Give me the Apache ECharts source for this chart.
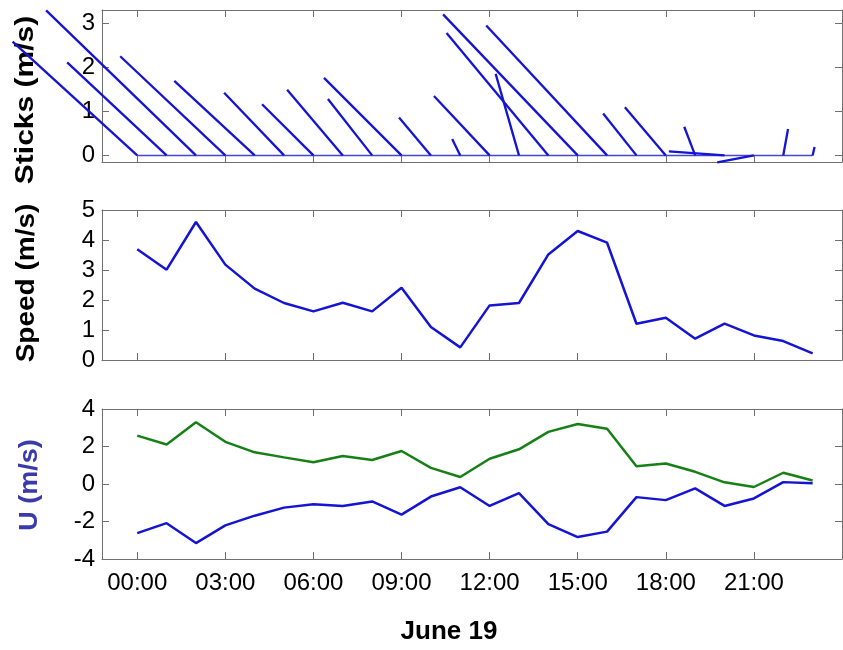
<!DOCTYPE html>
<html>
<head>
<meta charset="utf-8">
<script src="https://cdn.jsdelivr.net/npm/echarts@6/dist/echarts.min.js"></script>
<style>
html,body{margin:0;padding:0;background:#fff;}
#chart{width:843px;height:650px;}
</style>
</head>
<body>
<div id="chart"></div>
<script>
// ---- data ----
const hours = [0,1,2,3,4,5,6,7,8,9,10,11,12,13,14,15,16,17,18,19,20,21,22,23];
const uValues = [-2.62,-2.09,-3.15,-2.21,-1.69,-1.26,-1.08,-1.17,-0.93,-1.63,-0.67,-0.17,-1.17,-0.49,-2.14,-2.83,-2.54,-0.70,-0.86,-0.23,-1.17,-0.77,0.10,0.04];
const vValues = [2.58,2.11,3.29,2.25,1.69,1.42,1.16,1.49,1.28,1.76,0.86,0.37,1.35,1.85,2.78,3.20,2.95,0.95,1.09,0.65,0.09,-0.16,0.60,0.19];
const speedValues = [3.69,3.01,4.60,3.18,2.38,1.90,1.62,1.91,1.62,2.41,1.10,0.42,1.82,1.90,3.52,4.30,3.91,1.21,1.41,0.71,1.21,0.82,0.63,0.22];
const tickHours = [0,3,6,9,12,15,18,21];
const tickLabels = ['00:00','03:00','06:00','09:00','12:00','15:00','18:00','21:00'];
const sticksTicks = [0,1,2,3];
const STICK_HOURS_PER_MS = 1.62; // horizontal stick scale (hours per m/s)

// ---- styling ----
const FONT = '"Liberation Sans", Arial, Helvetica, sans-serif';
const AXIS_COLOR = '#707070';
const BLUE = '#1414d2';
const GREEN = '#168016';

const grids = [
  {left:102, right:1, top:10, height:152},
  {left:102, right:1, top:210, height:150},
  {left:102, right:1, top:409, height:150}
];

function xAxisFor(gi, pos, showLabels){
  return {
    type:'value', gridIndex:gi, position:pos, min:-1.2, max:24,
    axisLine:{show:true, onZero:false, lineStyle:{color:AXIS_COLOR, width:1}},
    axisTick:{show:true, inside:true, length:7, customValues:tickHours, lineStyle:{color:AXIS_COLOR}},
    axisLabel:{show:showLabels, customValues:tickHours, margin:12,
      formatter:function(v){ const i = tickHours.indexOf(v); return i>=0 ? tickLabels[i] : ''; },
      color:'#000', fontSize:24, fontFamily:FONT},
    splitLine:{show:false}
  };
}
function yAxisFor(gi, pos, showLabels, cfg){
  const tick = {show:true, inside:true, length:7, lineStyle:{color:AXIS_COLOR}};
  const lab = {show:showLabels, margin:7, color:'#000', fontSize:24, fontFamily:FONT};
  if (cfg.custom){ tick.customValues = cfg.custom; lab.customValues = cfg.custom; }
  const ax = {
    type:'value', gridIndex:gi, position:pos, min:cfg.min, max:cfg.max,
    axisLine:{show:true, onZero:false, lineStyle:{color:AXIS_COLOR, width:1}},
    axisTick:tick, axisLabel:lab, splitLine:{show:false}
  };
  if (cfg.interval) ax.interval = cfg.interval;
  return ax;
}

const yCfg = [
  {min:-0.15, max:3.3, custom:sticksTicks},
  {min:0, max:5, interval:1},
  {min:-4, max:4, interval:2}
];

const xAxes = [], yAxes = [];
for (let g=0; g<3; g++){
  xAxes.push(xAxisFor(g,'bottom', g===2));
  xAxes.push(xAxisFor(g,'top', false));
  yAxes.push(yAxisFor(g,'left', true, yCfg[g]));
  yAxes.push(yAxisFor(g,'right', false, yCfg[g]));
}

const stickData = hours.map((h,i)=>[h, uValues[i], vValues[i]]);

const option = {
  animation:false,
  backgroundColor:'#fff',
  grid: grids,
  xAxis: xAxes,
  yAxis: yAxes,
  series: [
    {
      type:'line', xAxisIndex:0, yAxisIndex:0, symbol:'none', z:2,
      data: hours.map(h=>[h,0]),
      lineStyle:{color:'#4646d0', width:1.5}
    },
    {
      type:'custom', xAxisIndex:0, yAxisIndex:0, clip:false, z:3,
      data: stickData,
      encode:{x:0, y:2},
      renderItem: function(params, api){
        const t = api.value(0), u = api.value(1), v = api.value(2);
        const p0 = api.coord([t, 0]);
        const p1 = api.coord([t + u*STICK_HOURS_PER_MS, v]);
        return {type:'line', shape:{x1:p0[0], y1:p0[1], x2:p1[0], y2:p1[1]},
          style:{stroke:BLUE, lineWidth:2.3}};
      }
    },
    {
      type:'line', xAxisIndex:2, yAxisIndex:2, symbol:'none',
      data: hours.map((h,i)=>[h, speedValues[i]]),
      lineStyle:{color:BLUE, width:2.5}
    },
    {
      type:'line', xAxisIndex:4, yAxisIndex:4, symbol:'none',
      data: hours.map((h,i)=>[h, vValues[i]]),
      lineStyle:{color:GREEN, width:2.5}
    },
    {
      type:'line', xAxisIndex:4, yAxisIndex:4, symbol:'none',
      data: hours.map((h,i)=>[h, uValues[i]]),
      lineStyle:{color:BLUE, width:2.5}
    }
  ],
  graphic: [
    {type:'text', x:26, y:100, rotation:Math.PI/2, scaleX:1.2,
      style:{text:'Sticks (m/s)', font:'bold 25px '+FONT, fill:'#000', align:'center', verticalAlign:'middle'}},
    {type:'text', x:27, y:283, rotation:Math.PI/2, scaleX:1.12,
      style:{text:'Speed (m/s)', font:'bold 25px '+FONT, fill:'#000', align:'center', verticalAlign:'middle'}},
    {type:'text', x:30, y:485, rotation:Math.PI/2, scaleX:1.08,
      style:{text:'U (m/s)', font:'bold 25px '+FONT, fill:'#3a3aaa', align:'center', verticalAlign:'middle'}},
    {type:'text', x:449, y:632,
      style:{text:'June 19', font:'bold 26px '+FONT, fill:'#000', align:'center', verticalAlign:'middle'}}
  ]
};

const chart = echarts.init(document.getElementById('chart'), null, {renderer:'canvas'});
chart.setOption(option);
</script>
</body>
</html>
